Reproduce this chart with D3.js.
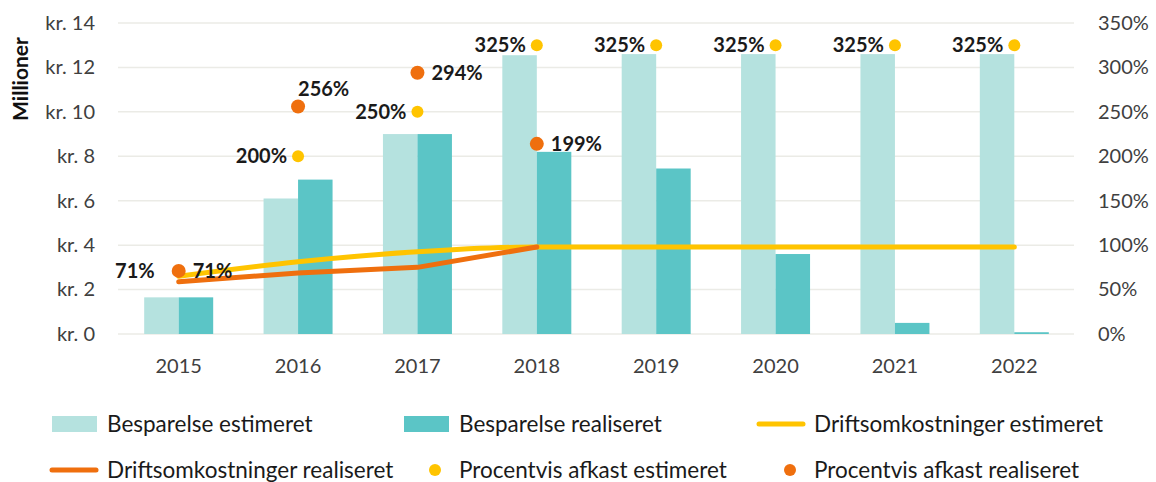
<!DOCTYPE html>
<html>
<head>
<meta charset="utf-8">
<script src="https://cdn.jsdelivr.net/npm/d3@7"></script>
<style>
  body { margin: 0; background: #fff; }
  text { font-family: Lato, "Open Sans", sans-serif; }
</style>
</head>
<body>
<div id="chart"></div>
<script>
// data
var years = ["2015", "2016", "2017", "2018", "2019", "2020", "2021", "2022"];
var savingsEstimated = [1.65, 6.1, 9.0, 12.55, 12.6, 12.6, 12.6, 12.6];
var savingsRealized = [1.65, 6.95, 9.0, 8.2, 7.45, 3.6, 0.5, 0.08];
var costsEstimated = [2.6, 3.25, 3.7, 3.92, 3.92, 3.92, 3.92, 3.92];
var costsRealized = [2.35, 2.75, 3.0, 3.92];
var returnEstimated = [71, 200, 250, 325, 325, 325, 325, 325];
var returnRealized = [71, 256, 294, 214];
var returnEstimatedLabels = ["71%", "200%", "250%", "325%", "325%", "325%", "325%", "325%"];
var returnRealizedLabels = ["71%", "256%", "294%", "199%"];
var leftTicks = [0, 2, 4, 6, 8, 10, 12, 14];
var rightTicks = [0, 50, 100, 150, 200, 250, 300, 350];
var legendItems = [
    { name: "Besparelse estimeret", type: "rect", color: "#b5e2df" },
    { name: "Besparelse realiseret", type: "rect", color: "#5bc5c6" },
    { name: "Driftsomkostninger estimeret", type: "line", color: "#ffc400" },
    { name: "Driftsomkostninger realiseret", type: "line", color: "#ef6f0e" },
    { name: "Procentvis afkast estimeret", type: "dot", color: "#ffc400" },
    { name: "Procentvis afkast realiseret", type: "dot", color: "#ef6f0e" }
];

var W = 1156, H = 482;
var plot = { left: 119, right: 1074, top: 23, bottom: 334 };

var svg = d3.select("#chart")
    .append("svg")
    .attr("width", W)
    .attr("height", H);

var x = d3.scaleBand()
    .domain(years)
    .range([plot.left, plot.right])
    .paddingInner(0.422)
    .paddingOuter(0.211);

var sub = d3.scaleBand()
    .domain(["est", "real"])
    .range([0, x.bandwidth()]);

var y = d3.scaleLinear().domain([0, 14]).range([plot.bottom, plot.top]);
var yPct = d3.scaleLinear().domain([0, 350]).range([plot.bottom, plot.top]);

function cx(d) { return x(d) + x.bandwidth() / 2; }

// grid
svg.append("g")
    .selectAll("line")
    .data(leftTicks)
    .enter().append("line")
    .attr("x1", plot.left - 1)
    .attr("x2", plot.right)
    .attr("y1", function (d) { return y(d); })
    .attr("y2", function (d) { return y(d); })
    .attr("stroke", "#ebebe6")
    .attr("stroke-width", 1.5);

function styleTicks(axis) {
    axis.select(".domain").remove();
    axis.selectAll("text")
        .attr("fill", "#404040")
        .style("font-size", "20px")
        .style("font-family", "Lato, sans-serif");
}

// left axis
var leftAxis = svg.append("g")
    .attr("transform", "translate(" + (plot.left - 24) + ",0)")
    .call(d3.axisLeft(y).tickValues(leftTicks).tickSize(0).tickFormat(function (d) { return "kr. " + d; }));
styleTicks(leftAxis);
leftAxis.selectAll("text").attr("x", 0);

// right axis
var rightAxis = svg.append("g")
    .attr("transform", "translate(" + (plot.right + 24) + ",0)")
    .call(d3.axisRight(yPct).tickValues(rightTicks).tickSize(0).tickFormat(function (d) { return d + "%"; }));
styleTicks(rightAxis);
rightAxis.selectAll("text").attr("x", 0);

// bottom axis
var bottomAxis = svg.append("g")
    .attr("transform", "translate(0," + (plot.bottom + 22) + ")")
    .call(d3.axisBottom(x).tickSize(0));
styleTicks(bottomAxis);

svg.append("text")
    .attr("transform", "translate(28,79) rotate(-90)")
    .attr("text-anchor", "middle")
    .attr("font-weight", "bold")
    .style("font-size", "21px")
    .attr("fill", "#111")
    .text("Millioner");

// bars
var groups = svg.append("g")
    .selectAll("g")
    .data(years)
    .enter().append("g")
    .attr("transform", function (d) { return "translate(" + x(d) + ",0)"; });

groups.append("rect")
    .attr("x", sub("est"))
    .attr("width", sub.bandwidth())
    .attr("y", function (d, i) { return y(savingsEstimated[i]); })
    .attr("height", function (d, i) { return y(0) - y(savingsEstimated[i]); })
    .attr("fill", "#b5e2df");

groups.append("rect")
    .attr("x", sub("real"))
    .attr("width", sub.bandwidth())
    .attr("y", function (d, i) { return y(savingsRealized[i]); })
    .attr("height", function (d, i) { return y(0) - y(savingsRealized[i]); })
    .attr("fill", "#5bc5c6");

// lines
var costLineSmooth = d3.line()
    .x(function (d, i) { return cx(years[i]); })
    .y(function (d) { return y(d); })
    .curve(d3.curveMonotoneX);

var costLineStraight = d3.line()
    .x(function (d, i) { return cx(years[i]); })
    .y(function (d) { return y(d); });

svg.append("path")
    .datum(costsEstimated)
    .attr("fill", "none")
    .attr("stroke", "#ffc400")
    .attr("stroke-width", 5)
    .attr("stroke-linecap", "round")
    .attr("d", costLineSmooth);

svg.append("path")
    .datum(costsRealized)
    .attr("fill", "none")
    .attr("stroke", "#ef6f0e")
    .attr("stroke-width", 5)
    .attr("stroke-linecap", "round")
    .attr("stroke-linejoin", "round")
    .attr("d", costLineStraight);

// percentage dots
svg.append("g")
    .selectAll("circle")
    .data(returnEstimated)
    .enter().append("circle")
    .attr("cx", function (d, i) { return cx(years[i]); })
    .attr("cy", function (d) { return yPct(d); })
    .attr("r", 6)
    .attr("fill", "#ffc400");

svg.append("g")
    .selectAll("circle")
    .data(returnRealized)
    .enter().append("circle")
    .attr("cx", function (d, i) { return cx(years[i]); })
    .attr("cy", function (d) { return yPct(d); })
    .attr("r", 7)
    .attr("fill", "#ef6f0e");

// data labels
svg.append("g")
    .selectAll("text")
    .data(returnEstimated)
    .enter().append("text")
    .attr("x", function (d, i) {
        // shift further left where the realised dot sits on top
        var overlap = returnRealized[i] === d;
        return cx(years[i]) - (overlap ? 24 : 11);
    })
    .attr("y", function (d) { return yPct(d); })
    .attr("dy", "0.35em")
    .attr("text-anchor", "end")
    .attr("font-weight", "bold")
    .style("font-size", "20px")
    .attr("fill", "#1a1a1a")
    .text(function (d, i) { return returnEstimatedLabels[i]; });

svg.append("g")
    .selectAll("text")
    .data(returnRealized)
    .enter().append("text")
    .attr("x", function (d, i) { return cx(years[i]) + (i === 1 ? 0 : 14); })
    .attr("y", function (d, i) { return yPct(d) - (i === 1 ? 18 : 0); })
    .attr("dy", "0.35em")
    .attr("text-anchor", "start")
    .attr("font-weight", "bold")
    .style("font-size", "20px")
    .attr("fill", "#1a1a1a")
    .text(function (d, i) { return returnRealizedLabels[i]; });

// legend
var legendCols = [107, 459, 814];
var legendRows = [424, 470];
var legend = svg.append("g")
    .selectAll("g")
    .data(legendItems)
    .enter().append("g")
    .attr("transform", function (d, i) {
        return "translate(" + legendCols[i % 3] + "," + legendRows[Math.floor(i / 3)] + ")";
    });

legend.each(function (d) {
    var g = d3.select(this);
    if (d.type === "rect") {
        g.append("rect").attr("x", -55).attr("y", -8).attr("width", 45).attr("height", 16).attr("fill", d.color);
    } else if (d.type === "line") {
        g.append("line").attr("x1", -55).attr("x2", -11).attr("y1", 0).attr("y2", 0)
            .attr("stroke", d.color).attr("stroke-width", 5).attr("stroke-linecap", "round");
    } else {
        g.append("circle").attr("cx", -24).attr("cy", 0).attr("r", 6).attr("fill", d.color);
    }
    g.append("text")
        .attr("x", 0)
        .attr("dy", "0.35em")
        .style("font-size", "22.5px")
        .attr("fill", "#1a1a1a")
        .text(d.name);
});
</script>
</body>
</html>
